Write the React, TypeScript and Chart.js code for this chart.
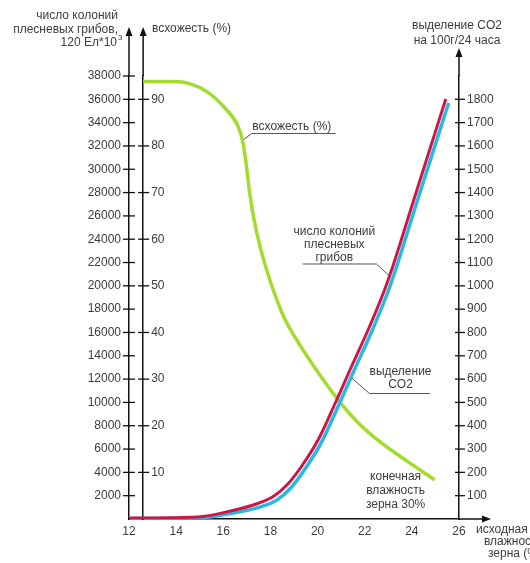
import React, { useEffect, useRef } from 'react';
import { Chart, registerables } from 'chart.js';

Chart.register(...registerables);

// ---- tick values ----
const xTickValues = [12, 14, 16, 18, 20, 22, 24, 26];
const colonyTickValues = [2000, 4000, 6000, 8000, 10000, 12000, 14000, 16000, 18000, 20000, 22000, 24000, 26000, 28000, 30000, 32000, 34000, 36000, 38000];
const humidityTickValues = [10, 20, 30, 40, 50, 60, 70, 80, 90];
const co2TickValues = [100, 200, 300, 400, 500, 600, 700, 800, 900, 1000, 1100, 1200, 1300, 1400, 1500, 1600, 1700, 1800];

// ---- series: germination (%) ----
const germX = [12.6, 13.9, 14.6, 15.32, 16.02, 16.6, 16.81, 16.95, 17.12, 17.31, 17.56, 18.02, 18.57, 19.3, 20.15, 20.88, 21.73, 22.71, 23.86, 24.97];
const germY = [93.8, 93.8, 93.3, 91.6, 88.4, 84.5, 81.3, 77.0, 69.9, 64.1, 58.4, 50.6, 43.3, 36.9, 30.5, 25.5, 20.6, 16.3, 12.2, 8.4];

// ---- series: mould colonies ----
const colonyX = [12.04, 14.9, 16.31, 17.46, 18.15, 18.74, 19.3, 20.02, 20.79, 21.43, 22.16, 22.84, 23.14, 24.12, 25.44];
const colonyY = [86, 172, 686, 1330, 1973, 3002, 4461, 6777, 10122, 13039, 16298, 19644, 21359, 27621, 36028];

// ---- series: CO2 release ----
const co2X = [12.04, 14.9, 16.31, 17.55, 18.27, 18.86, 19.41, 20.13, 20.9, 21.54, 22.27, 22.95, 23.25, 24.23, 25.56];
const co2Y = [2, 4, 24, 51, 81, 133, 206, 322, 489, 635, 798, 965, 1051, 1364, 1784];

const FONT = '"Liberation Sans", Arial, sans-serif';
const TEXT = '#3c3c3c';
const AXIS = '#111111';

const toPoints = (xs: number[], ys: number[]) => xs.map((x, i) => ({ x, y: ys[i] }));
const setTicks = (vals: number[]) => (scale: any) => {
  scale.ticks = vals.map((v) => ({ value: v }));
};
const plain = (v: any) => String(v);

const decorPlugin = {
  id: 'decor',
  afterDraw(chart: any) {
    const { ctx, scales } = chart;
    const xs = scales.x;
    const yC = scales.yC;
    const yH = scales.yH;
    const yG = scales.yCO2;
    const ax1 = xs.getPixelForValue(12);
    const ax2 = xs.getPixelForValue(12.6);
    const ax3 = xs.getPixelForValue(26);
    const base = yC.getPixelForValue(0);
    const top = yC.top;

    ctx.save();
    ctx.strokeStyle = AXIS;
    ctx.fillStyle = AXIS;
    ctx.lineWidth = 1.5;
    const line = (x1: number, y1: number, x2: number, y2: number) => {
      ctx.beginPath();
      ctx.moveTo(x1, y1);
      ctx.lineTo(x2, y2);
      ctx.stroke();
    };
    const arrowUp = (x: number, tip: number) => {
      ctx.beginPath();
      ctx.moveTo(x, tip);
      ctx.lineTo(x - 3.5, tip + 9);
      ctx.lineTo(x + 3.5, tip + 9);
      ctx.closePath();
      ctx.fill();
    };
    // axis extensions + arrows
    line(ax1, top, ax1, 34);
    arrowUp(ax1, 27);
    line(ax2, top, ax2, 34);
    arrowUp(ax2, 27);
    line(ax3, top, ax3, 55);
    arrowUp(ax3, 48);
    line(xs.right, base, 482, base);
    ctx.beginPath();
    ctx.moveTo(491, base);
    ctx.lineTo(482, base - 3.5);
    ctx.lineTo(482, base + 3.5);
    ctx.closePath();
    ctx.fill();

    // crossing tick marks
    ctx.lineWidth = 1.3;
    colonyTickValues.forEach((v) => {
      const y = yC.getPixelForValue(v);
      line(ax1 - 6, y, ax1 + 6, y);
    });
    humidityTickValues.forEach((v) => {
      const y = yH.getPixelForValue(v);
      line(ax2 - 5, y, ax2 + 6, y);
    });
    co2TickValues.forEach((v) => {
      const y = yG.getPixelForValue(v);
      line(ax3 - 4, y, ax3 + 6, y);
    });

    // humidity axis labels (to the right of its axis)
    ctx.fillStyle = TEXT;
    ctx.font = `12px ${FONT}`;
    ctx.textAlign = 'left';
    ctx.textBaseline = 'middle';
    humidityTickValues.forEach((v) => {
      ctx.fillText(String(v), ax2 + 8, yH.getPixelForValue(v));
    });

    // captions outside the plot
    ctx.font = `12px ${FONT}`;
    ctx.textAlign = 'right';
    ctx.fillText('число колоний', 118, 16);
    ctx.fillText('плесневых грибов,', 118, 30);
    ctx.fillText('120 Ел*10', 117, 43);
    ctx.textAlign = 'left';
    ctx.font = `8px ${FONT}`;
    ctx.fillText('3', 118, 38);
    ctx.font = `12px ${FONT}`;
    ctx.fillText('всхожесть (%)', 152, 29);
    ctx.textAlign = 'center';
    ctx.fillText('выделение CO2', ax3 - 2, 26);
    ctx.fillText('на 100г/24 часа', ax3 - 2, 41);
    ctx.textAlign = 'left';
    ctx.fillText('исходная', 476, base + 11);
    ctx.fillText('влажность', 484, base + 23);
    ctx.fillText('зерна (%)', 488, base + 35);

    // captions inside the plot (anchored through the scales)
    const P = (x: number, c: number) => [xs.getPixelForValue(x), yC.getPixelForValue(c)];
    ctx.strokeStyle = '#555';
    ctx.lineWidth = 1;

    // germination label
    let [tx, ty] = P(17.23, 33625);
    ctx.textAlign = 'left';
    ctx.fillText('всхожесть (%)', tx, ty);
    let [u1x, uy] = P(17.21, 33068);
    let [u2x] = P(20.77, 0);
    let [lx, ly] = P(16.88, 32571);
    ctx.beginPath();
    ctx.moveTo(lx, ly);
    ctx.lineTo(u1x, uy);
    ctx.lineTo(u2x, uy);
    ctx.stroke();

    // colonies label
    ctx.textAlign = 'center';
    [tx, ty] = P(20.71, 24619);
    ctx.fillText('число колоний', tx, ty);
    ctx.fillText('плесневых', tx, P(0, 23504)[1]);
    ctx.fillText('грибов', tx, P(0, 22389)[1]);
    [u1x, uy] = P(19.37, 21874);
    [u2x] = P(22.5, 0);
    [lx, ly] = P(23.0, 20930);
    ctx.beginPath();
    ctx.moveTo(u1x, uy);
    ctx.lineTo(u2x, uy);
    ctx.lineTo(lx, ly);
    ctx.stroke();

    // CO2 label
    [tx, ty] = P(23.52, 12610);
    ctx.fillText('выделение', tx, ty);
    ctx.fillText('CO2', tx, P(0, 11495)[1]);
    [u1x, uy] = P(22.2, 10765);
    [u2x] = P(24.76, 0);
    [lx, ly] = P(21.45, 12095);
    ctx.beginPath();
    ctx.moveTo(lx, ly);
    ctx.lineTo(u1x, uy);
    ctx.lineTo(u2x, uy);
    ctx.stroke();

    // final humidity label
    [tx, ty] = P(23.31, 3603);
    ctx.fillText('конечная', tx, ty);
    ctx.fillText('влажность', tx, P(0, 2402)[1]);
    ctx.fillText('зерна 30%', tx, P(0, 1201)[1]);

    ctx.restore();
  },
};

export default function App() {
  const ref = useRef<HTMLCanvasElement | null>(null);

  useEffect(() => {
    if (!ref.current) return;
    const tickFont = { family: FONT, size: 12 };
    const chart = new Chart(ref.current, {
      type: 'line',
      data: {
        datasets: [
          {
            label: 'число колоний плесневых грибов',
            data: toPoints(colonyX, colonyY),
            yAxisID: 'yC',
            borderColor: '#cc1744',
            borderWidth: 3,
            pointRadius: 0,
            cubicInterpolationMode: 'monotone',
          },
          {
            label: 'выделение CO2',
            data: toPoints(co2X, co2Y),
            yAxisID: 'yCO2',
            borderColor: '#27b8e8',
            borderWidth: 3.5,
            pointRadius: 0,
            cubicInterpolationMode: 'monotone',
          },
          {
            label: 'всхожесть (%)',
            data: toPoints(germX, germY),
            yAxisID: 'yH',
            borderColor: '#a2dc2e',
            borderWidth: 3.5,
            pointRadius: 0,
            cubicInterpolationMode: 'monotone',
          },
        ],
      },
      options: {
        animation: false,
        responsive: false,
        layout: { padding: { top: 76, left: 0, right: 0, bottom: 0 } },
        plugins: { legend: { display: false }, tooltip: { enabled: false } },
        scales: {
          x: {
            type: 'linear',
            min: 12,
            max: 26,
            afterBuildTicks: setTicks(xTickValues),
            afterFit: (s: any) => { s.height = 44; },
            grid: { display: false, drawTicks: false },
            border: { display: true, color: AXIS, width: 1.5 },
            ticks: { autoSkip: false, maxRotation: 0, padding: 5, color: TEXT, font: tickFont, callback: plain },
          },
          yC: {
            type: 'linear',
            position: 'left',
            min: 0,
            max: 38000,
            afterBuildTicks: setTicks(colonyTickValues),
            afterFit: (s: any) => { s.width = 129; },
            grid: { display: false, drawTicks: false },
            border: { display: true, color: AXIS, width: 1.5 },
            ticks: { autoSkip: false, padding: 8, color: TEXT, font: tickFont, callback: plain },
          },
          yH: {
            type: 'linear',
            position: { x: 12.6 } as any,
            min: 0,
            max: 95,
            afterBuildTicks: setTicks(humidityTickValues),
            grid: { display: false, drawTicks: false },
            border: { display: true, color: AXIS, width: 1.5 },
            ticks: { display: false },
          },
          yCO2: {
            type: 'linear',
            position: 'right',
            min: 0,
            max: 1900,
            afterBuildTicks: setTicks(co2TickValues),
            afterFit: (s: any) => { s.width = 71; },
            grid: { display: false, drawTicks: false },
            border: { display: true, color: AXIS, width: 1.5 },
            ticks: { autoSkip: false, padding: 8, color: TEXT, font: tickFont, callback: plain },
          },
        },
      },
      plugins: [decorPlugin],
    } as any);
    return () => chart.destroy();
  }, []);

  return (
    <div style={{ position: 'absolute', left: 0, top: 0, width: 530, height: 563, background: '#fff' }}>
      <canvas ref={ref} width={530} height={563} style={{ width: 530, height: 563 }} />
    </div>
  );
}
